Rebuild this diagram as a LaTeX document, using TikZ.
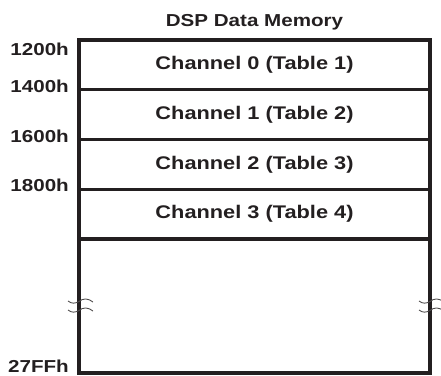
\documentclass[tikz,border=0pt]{standalone}
\usepackage{fontspec}
\newfontfamily\memfont{Liberation Sans}[FakeStretch=1.19]
\usetikzlibrary{positioning}
\definecolor{memink}{RGB}{35,31,32}

\newcommand{\memBreak}[1]{
  \begin{scope}[shift={(#1)}]
    \foreach \dy in {-4.5,4.5}
      \draw[breaksty] (-11,\dy-0.5) .. controls (-7,\dy+2.5) and (-4,\dy+2) .. (0,\dy)
        .. controls (4,\dy-3.5) and (9,\dy-3.5) .. (14,\dy+0.5);
  \end{scope}
}

\begin{document}
\begin{tikzpicture}[x=1pt,y=-1pt,
  every node/.append style={font={\memfont\bfseries\fontsize{17.3}{20}\selectfont}, text=memink},
  chansty/.style={draw=memink, line width=3.3pt, minimum width=351pt, minimum height=49.75pt, inner sep=0pt, outer sep=0pt,
    font={\memfont\bfseries\fontsize{18.3}{21}\selectfont}},
  freesty/.style={chansty, minimum height=134pt},
  addrsty/.style={anchor=east, inner sep=0pt},
  breaksty/.style={memink!80, line width=0.9pt}]

\useasboundingbox (0,0) rectangle (441,375);

\node (title) at (254.5,22) {DSP Data Memory};

\node[chansty] (ch0) at (254.5,64.9) {Channel 0 (Table 1)};
\node[chansty, below=0pt of ch0] (ch1) {Channel 1 (Table 2)};
\node[chansty, below=0pt of ch1] (ch2) {Channel 2 (Table 3)};
\node[chansty, below=0pt of ch2] (ch3) {Channel 3 (Table 4)};
\node[freesty, below=0pt of ch3] (free) {};

% addresses
\node[addrsty] (a1200) at ([shift={(-10,9)}]ch0.north west) {1200h};
\node[addrsty] (a1400) at ([shift={(-10,-3.7)}]ch0.south west) {1400h};
\node[addrsty] (a1600) at ([shift={(-10,-3)}]ch1.south west) {1600h};
\node[addrsty] (a1800) at ([shift={(-10,-3.7)}]ch2.south west) {1800h};
\node[addrsty] (a27FF) at ([shift={(-10,-6.5)}]free.south west) {27FFh};

\memBreak{free.west}
\memBreak{free.east}

\end{tikzpicture}
\end{document}
